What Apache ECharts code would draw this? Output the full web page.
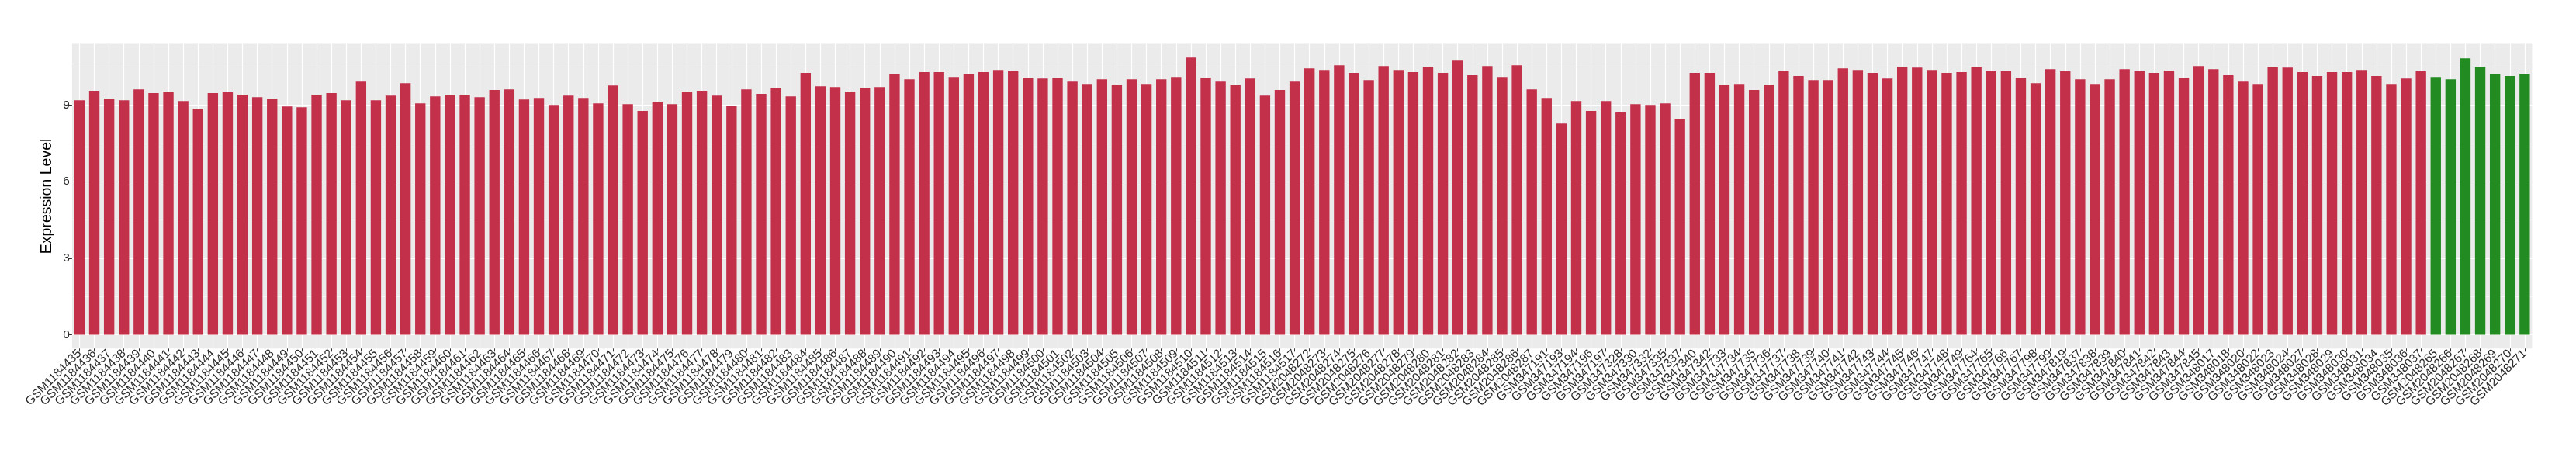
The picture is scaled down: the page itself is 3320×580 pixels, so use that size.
<!DOCTYPE html>
<html><head><meta charset="utf-8">
<script src="https://cdn.jsdelivr.net/npm/echarts@6/dist/echarts.min.js"></script>
<style>html,body{margin:0;padding:0;background:#fff}#c{width:3320px;height:580px}</style>
</head><body><div id="c"></div>
<script>
const redSamples = [
'GSM1184435','GSM1184436','GSM1184437','GSM1184438','GSM1184439','GSM1184440','GSM1184441','GSM1184442','GSM1184443','GSM1184444',
'GSM1184445','GSM1184446','GSM1184447','GSM1184448','GSM1184449','GSM1184450','GSM1184451','GSM1184452','GSM1184453','GSM1184454',
'GSM1184455','GSM1184456','GSM1184457','GSM1184458','GSM1184459','GSM1184460','GSM1184461','GSM1184462','GSM1184463','GSM1184464',
'GSM1184465','GSM1184466','GSM1184467','GSM1184468','GSM1184469','GSM1184470','GSM1184471','GSM1184472','GSM1184473','GSM1184474',
'GSM1184475','GSM1184476','GSM1184477','GSM1184478','GSM1184479','GSM1184480','GSM1184481','GSM1184482','GSM1184483','GSM1184484',
'GSM1184485','GSM1184486','GSM1184487','GSM1184488','GSM1184489','GSM1184490','GSM1184491','GSM1184492','GSM1184493','GSM1184494',
'GSM1184495','GSM1184496','GSM1184497','GSM1184498','GSM1184499','GSM1184500','GSM1184501','GSM1184502','GSM1184503','GSM1184504',
'GSM1184505','GSM1184506','GSM1184507','GSM1184508','GSM1184509','GSM1184510','GSM1184511','GSM1184512','GSM1184513','GSM1184514',
'GSM1184515','GSM1184516','GSM1184517',
'GSM2048272','GSM2048273','GSM2048274','GSM2048275','GSM2048276','GSM2048277','GSM2048278','GSM2048279','GSM2048280','GSM2048281',
'GSM2048282','GSM2048283','GSM2048284','GSM2048285','GSM2048286','GSM2048287',
'GSM347191','GSM347193','GSM347194','GSM347196','GSM347197','GSM347328','GSM347330','GSM347332','GSM347335','GSM347337',
'GSM347340','GSM347342','GSM347733','GSM347734','GSM347735','GSM347736','GSM347737','GSM347738','GSM347739','GSM347740',
'GSM347741','GSM347742','GSM347743','GSM347744','GSM347745','GSM347746','GSM347747','GSM347748','GSM347749','GSM347764',
'GSM347765','GSM347766','GSM347767','GSM347798','GSM347799','GSM347819','GSM347837','GSM347838','GSM347839','GSM347840',
'GSM347841','GSM347842','GSM347843','GSM347844','GSM347845',
'GSM348017','GSM348018','GSM348020','GSM348022','GSM348023','GSM348024','GSM348027','GSM348028','GSM348029','GSM348030',
'GSM348031','GSM348034','GSM348035','GSM348036','GSM348037'
];
const greenSamples = ['GSM2048265','GSM2048266','GSM2048267','GSM2048268','GSM2048269','GSM2048270','GSM2048271'];

const redValues = [
9.19,9.56,9.25,9.19,9.62,9.47,9.53,9.16,8.86,9.47,9.50,9.41,9.31,9.25,8.95,8.92,9.41,9.47,9.19,9.92,
9.19,9.37,9.86,9.07,9.34,9.41,9.41,9.31,9.59,9.62,9.22,9.28,9.01,
9.37,9.28,9.07,9.77,9.04,8.77,9.13,9.04,9.53,9.56,9.37,8.98,9.62,9.44,9.68,9.34,10.26,9.74,
9.71,9.53,9.68,9.71,10.20,10.01,10.29,10.29,10.10,10.20,10.29,10.38,10.32,10.07,10.04,
10.07,9.92,9.83,10.01,9.80,10.01,9.83,10.01,10.10,10.86,10.07,9.92,9.80,10.04,9.37,9.59,9.92,
10.44,10.38,10.56,10.26,9.98,10.53,10.38,10.29,10.50,10.26,10.77,10.17,10.53,10.10,10.56,9.62,
9.28,8.28,9.16,8.77,9.16,8.71,9.04,9.01,9.07,8.46,10.26,10.26,9.80,9.83,9.59,9.80,10.32,
10.14,9.98,9.98,10.44,10.38,10.26,10.04,10.50,10.47,10.38,10.26,10.29,10.50,10.32,10.32,10.07,9.86,
10.41,10.32,10.01,9.83,10.01,10.41,10.32,10.26,10.35,10.07,10.53,10.41,10.17,9.92,9.83,10.50,
10.47,10.29,10.14,10.29,10.29,10.38,10.14,9.83,10.04,10.32
];
const greenValues = [10.10,10.01,10.83,10.50,10.20,10.14,10.23];

const yTickValues = [0, 3, 6, 9];
const yMinorValues = [1.5, 4.5, 7.5, 10.5];

const RED = '#C3304A', GREEN = '#228B22';
const categories = redSamples.concat(greenSamples);
const barData = redValues.map(v => ({value: v, itemStyle: {color: RED}}))
  .concat(greenValues.map(v => ({value: v, itemStyle: {color: GREEN}})));
const maxV = Math.max.apply(null, redValues.concat(greenValues));
const yMin = -0.05 * maxV, yMax = 1.05 * maxV;
const FONT = 'Liberation Sans, Arial, Helvetica, sans-serif';

const chart = echarts.init(document.getElementById('c'), null, {renderer: 'canvas'});
chart.setOption({
  animation: false,
  backgroundColor: '#FFFFFF',
  textStyle: {fontFamily: FONT},
  grid: {left: 92.9, right: 56.6, top: 56.5, bottom: 130.7, show: true,
         backgroundColor: '#EBEBEB', borderWidth: 0, containLabel: false},
  xAxis: {
    type: 'category', data: categories, boundaryGap: true,
    axisLine: {show: false, onZero: false},
    axisTick: {show: true, alignWithLabel: true, interval: 0, length: 4,
               lineStyle: {color: '#333333', width: 1}},
    axisLabel: {interval: 0, rotate: 45, fontSize: 15.5, color: '#2B2B2B', margin: 4, fontFamily: FONT},
    splitLine: {show: true, interval: 0, alignWithLabel: true, lineStyle: {color: '#FFFFFF', width: 1.2}}
  },
  yAxis: [{
    type: 'value', min: yMin, max: yMax,
    axisLine: {show: false, onZero: false},
    axisTick: {show: true, length: 4, customValues: yTickValues, lineStyle: {color: '#333333', width: 1}},
    axisLabel: {customValues: yTickValues, fontSize: 15.5, color: '#2B2B2B', margin: 3, fontFamily: FONT},
    splitLine: {show: true, lineStyle: {color: '#FFFFFF', width: 1.2}},
    name: 'Expression Level', nameLocation: 'middle', nameGap: 20,
    nameTextStyle: {fontSize: 19.5, color: '#000000', fontFamily: FONT}
  }, {
    type: 'value', min: yMin, max: yMax, position: 'left',
    axisLine: {show: false, onZero: false},
    axisTick: {show: false, customValues: yMinorValues},
    axisLabel: {show: false},
    splitLine: {show: true, lineStyle: {color: '#FFFFFF', width: 0.6}}
  }],
  series: [{
    type: 'bar', data: barData, barWidth: '70%', yAxisIndex: 0, z: 3
  }]
});
</script>
</body></html>
